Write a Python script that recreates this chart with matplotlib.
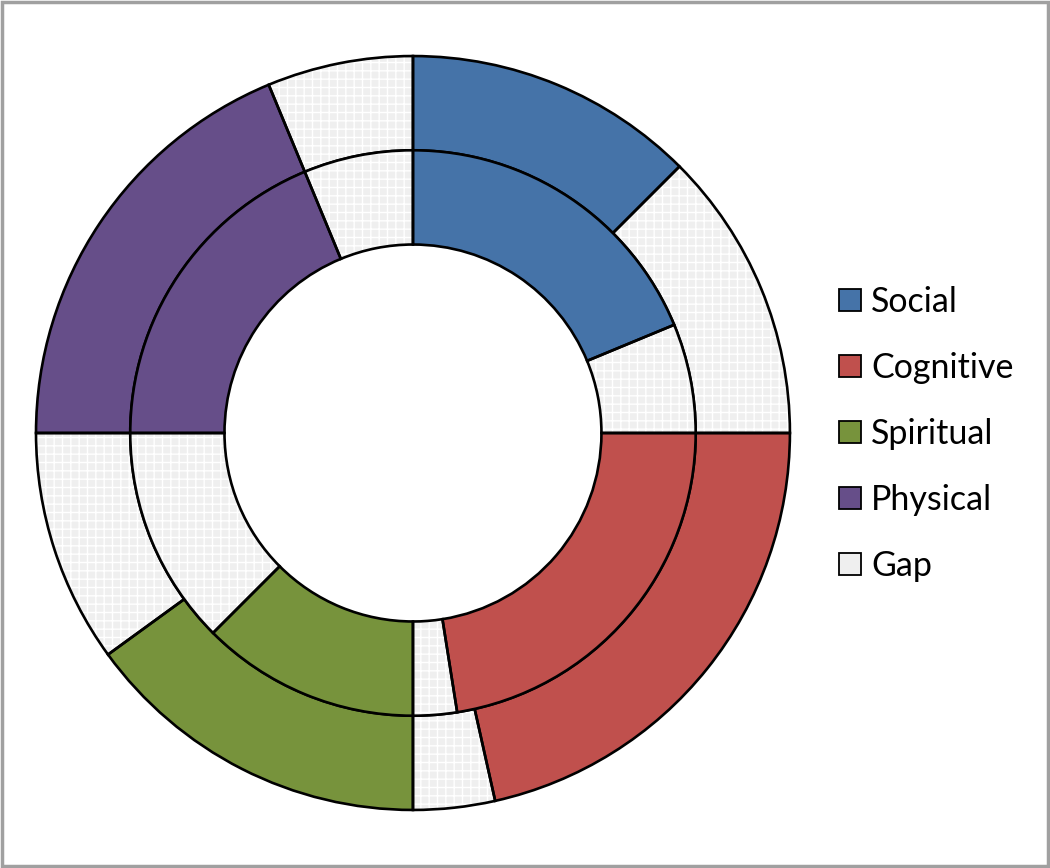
import matplotlib
matplotlib.use("Agg")
import matplotlib.pyplot as plt
from matplotlib.patches import Patch, Rectangle

categories = ["Social", "Cognitive", "Spiritual", "Physical"]
outer_values = [50, 86, 60, 75]   # share of each quadrant (out of 100)
inner_values = [75, 90, 50, 75]
quadrant_total = 100
colors = ["#4573A8", "#C0504D", "#77933C", "#664E89"]
gap_label = "Gap"
gap_color = "#EFEFEF"

def ring_data(vals):
    sizes, cols, is_gap = [], [], []
    for v, c in zip(vals, colors):
        sizes += [v, quadrant_total - v]
        cols += [c, gap_color]
        is_gap += [False, True]
    return sizes, cols, is_gap

fig = plt.figure(figsize=(10.5, 8.68), dpi=100)
ax = fig.add_axes([0.0343, 0.0668, 0.718, 0.8687])
ax.set_xlim(-1, 1)
ax.set_ylim(-1, 1)
ax.set_aspect("equal")
ax.axis("off")

for vals, r in [(outer_values, 1.0), (inner_values, 0.75)]:
    sizes, cols, is_gap = ring_data(vals)
    wedges, _ = ax.pie(sizes, radius=r, startangle=90, counterclock=False,
                       colors=cols, wedgeprops=dict(width=0.25, linewidth=0, edgecolor="white"))
    for w, g in zip(wedges, is_gap):
        if g:
            w.set_hatch("++")
            w.set_edgecolor("white")
            w.set_linewidth(0)
    ax.pie(sizes, radius=r, startangle=90, counterclock=False,
           colors=["none"] * len(sizes),
           wedgeprops=dict(width=0.25, linewidth=1.9, edgecolor="black", fill=False))

ax.set_xlim(-1, 1)
ax.set_ylim(-1, 1)

handles = [Patch(facecolor=c, edgecolor="black", linewidth=1.3) for c in colors]
handles.append(Patch(facecolor=gap_color, edgecolor="black", linewidth=1.3))
labels = categories + [gap_label]
fig.legend(handles, labels, loc="center left", bbox_to_anchor=(0.799, 0.5),
           frameon=False, prop=dict(family="Lato", size=24.5),
           handlelength=0.65, handleheight=0.65, handletextpad=0.3,
           labelspacing=1.0, borderaxespad=0, borderpad=0)

fig.patches.append(Rectangle((0.0015, 0.002), 0.997, 0.996, transform=fig.transFigure,
                             fill=False, edgecolor="#A0A0A0", linewidth=2.5))

fig.savefig("out.png", dpi=100)
